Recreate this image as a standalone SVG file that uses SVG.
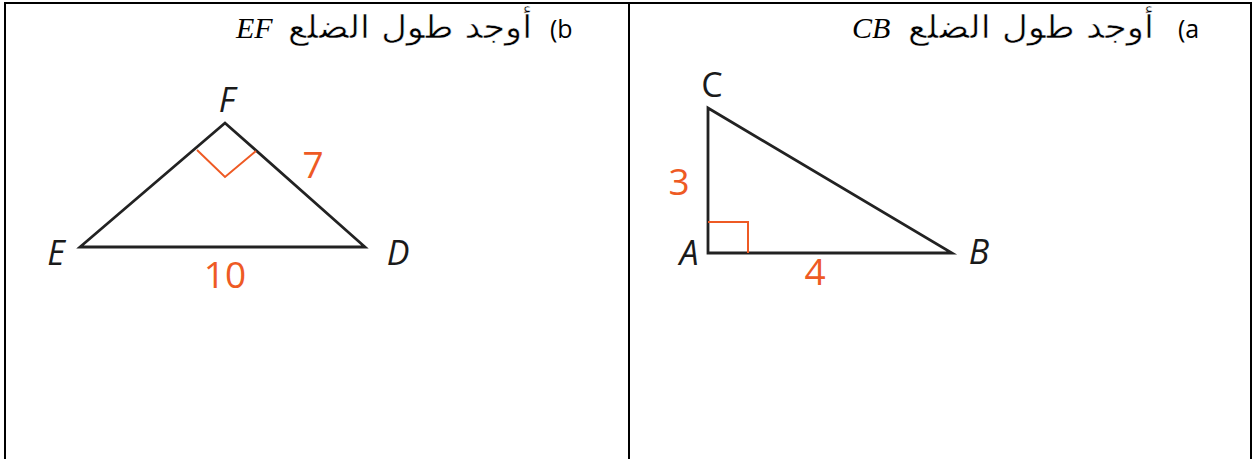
<svg xmlns="http://www.w3.org/2000/svg" width="1253" height="459" viewBox="0 0 1253 459">
<style>
.frame{fill:none;stroke:#000;stroke-width:2}
.edge{fill:none;stroke:#222;stroke-width:2.8;stroke-linejoin:miter}
.mark{fill:none;stroke:#EE5A24;stroke-width:2}
.lbl{font-family:"Open Sans","Noto Sans",sans-serif;font-size:34px;fill:#1a1a1a}
.num{font-family:"Open Sans","Noto Sans",sans-serif;font-size:37px;fill:#EE5A24}
.ar{font-family:"DejaVu Sans","Noto Sans",sans-serif;font-size:32px;fill:#000;stroke:#fff;stroke-width:0.5}
.lat{font-family:"Open Sans","Liberation Sans",sans-serif;font-size:25px;fill:#000}
.math{font-family:"Liberation Serif",serif;font-style:italic;font-size:30px;fill:#000}
</style>
<rect width="1253" height="459" fill="#fff"/>
<g id="table">
<path class="frame" d="M5 459 V3 H1251 V459"/>
<line class="frame" x1="629" y1="3" x2="629" y2="459"/>
</g>
<g id="title-b">
<text class="math" x="236" y="38">EF</text>
<text class="ar" x="288" y="38" textLength="244" lengthAdjust="spacingAndGlyphs">أوجد طول الضلع</text>
<text class="lat" x="550" y="38">(b</text>
</g>
<g id="title-a">
<text class="math" x="852" y="38">CB</text>
<text class="ar" x="908" y="38" textLength="246" lengthAdjust="spacingAndGlyphs">أوجد طول الضلع</text>
<text class="lat" x="1178" y="38">(a</text>
</g>
<g id="triangle-EFD">
<polygon class="edge" points="225,123 80,247 365,247"/>
<polyline class="mark" points="197,150 225,177 256,151"/>
<text class="lbl" x="227" y="112" text-anchor="middle" font-style="italic">F</text>
<text class="lbl" x="56" y="265" text-anchor="middle" font-style="italic">E</text>
<text class="lbl" x="398" y="265" text-anchor="middle" font-style="italic">D</text>
<text class="num" x="313" y="178" text-anchor="middle">7</text>
<text class="num" x="225" y="288" text-anchor="middle">10</text>
</g>
<g id="triangle-ABC">
<polygon class="edge" points="708,108 708,253 952,253"/>
<polyline class="mark" points="708,222 748,222 748,253"/>
<text class="lbl" x="712" y="97" text-anchor="middle">C</text>
<text class="lbl" x="689" y="265" text-anchor="middle" font-style="italic">A</text>
<text class="lbl" x="979" y="264" text-anchor="middle" font-style="italic">B</text>
<text class="num" x="679" y="195" text-anchor="middle">3</text>
<text class="num" x="815" y="285" text-anchor="middle">4</text>
</g>
</svg>
